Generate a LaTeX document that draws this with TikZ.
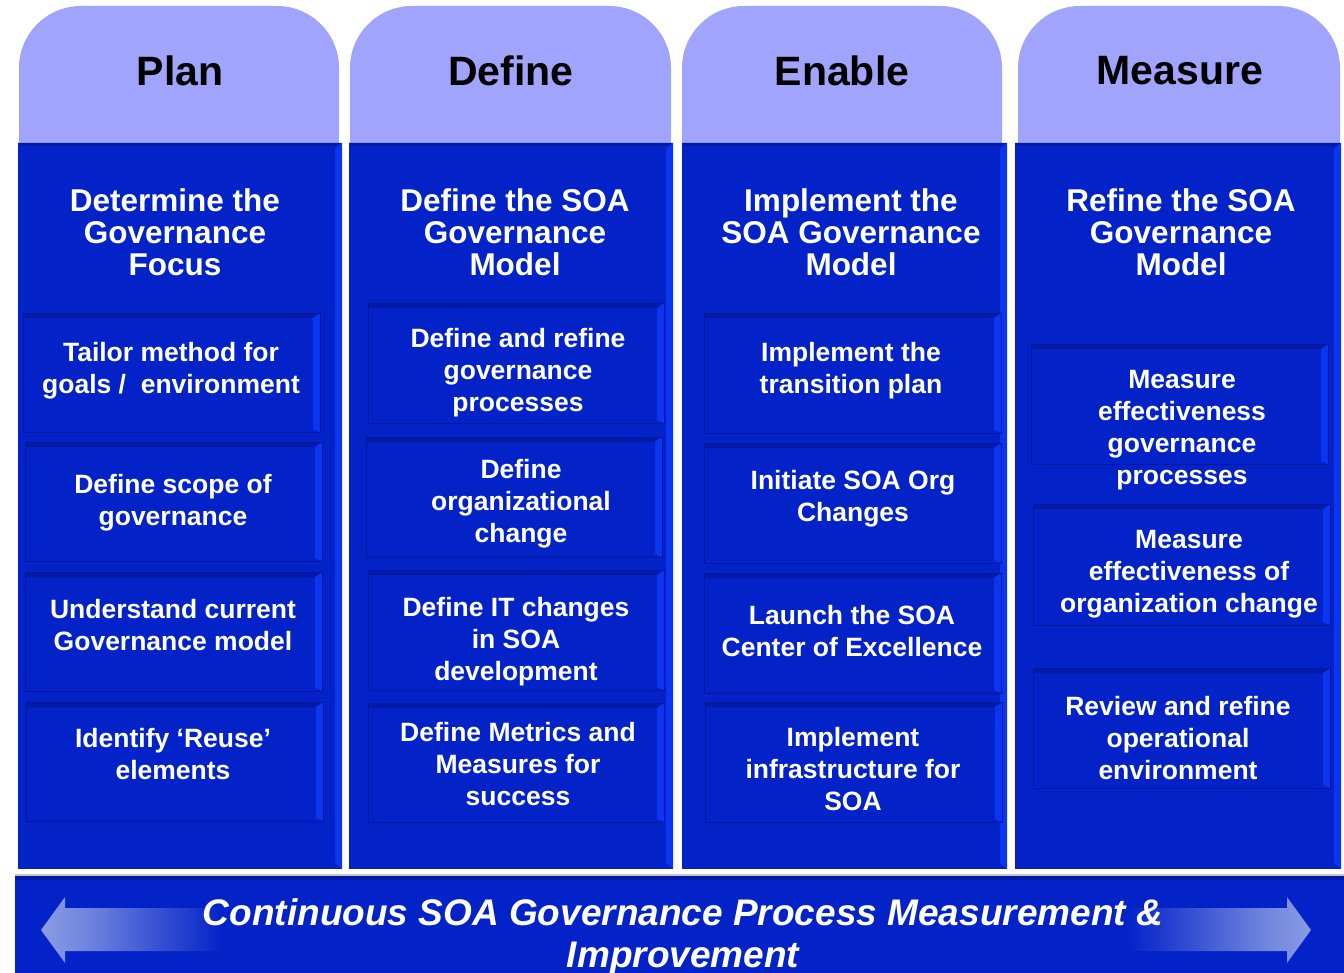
\documentclass[tikz,border=0pt]{standalone}
\usepackage{fontspec}
\setmainfont{Liberation Sans}
\definecolor{tabc}{HTML}{A0A4FC}
\definecolor{colb}{HTML}{0323C8}
\definecolor{litb}{HTML}{0A36F2}
\definecolor{darkb}{HTML}{021AA6}
\definecolor{edgeb}{HTML}{0216A0}
\definecolor{arrl}{HTML}{8A9CE4}
\newcommand\fixlines{\lineskiplimit -100pt\relax}
\pgfdeclarehorizontalshading{arrfadeL}{100bp}{color(0bp)=(arrl); color(25bp)=(arrl); color(38bp)=(arrl!80!colb); color(75bp)=(colb); color(100bp)=(colb)}
\pgfdeclarehorizontalshading{arrfadeR}{100bp}{color(0bp)=(colb); color(25bp)=(colb); color(62bp)=(arrl!80!colb); color(75bp)=(arrl); color(100bp)=(arrl)}
\tikzset{
  tabshape/.style={fill=tabc, rounded corners=62pt},
  header/.style={font=\fontsize{41}{49}\selectfont\bfseries, text=black, inner sep=0pt},
  coltitle/.style={font=\fontsize{31.5}{32}\selectfont\bfseries\fixlines, text=white, align=center, inner sep=0pt},
  boxtext/.style={font=\fontsize{26.5}{32}\selectfont\bfseries\fixlines, text=white, align=center, inner sep=0pt},
  bandtext/.style={font=\fontsize{37}{42}\selectfont\bfseries\itshape\fixlines, text=white, align=center, inner sep=0pt},
}
% column with bevel: x1, x2
\newcommand\phasecol[2]{%
  \fill[colb] (#1,143) rectangle (#2,869);
  \fill[darkb] (#1,143) -- (#2,143) -- ({#2-7},146) -- ({#1+2},146) -- cycle;
  \fill[litb] ({#2-7},149) -- (#2,143) -- (#2,869) -- ({#2-7},863) -- cycle;
}
% inner box with bevel: x1,y1,x2,y2
\newcommand\stepbox[4]{%
  \fill[colb] (#1,#2) rectangle (#3,#4);
  \fill[darkb] (#1,#2) -- (#3,#2) -- ({#3-7},{#2+5}) -- ({#1+1},{#2+5}) -- cycle;
  \fill[litb] ({#3-7},{#2+5}) -- (#3,#2) -- (#3,#4) -- ({#3-7},{#4-3}) -- cycle;
  \draw[edgeb, line width=0.8pt] (#1,#2) rectangle (#3,#4);
}
\begin{document}
\begin{tikzpicture}[x=1pt,y=-1pt]
\useasboundingbox (0,0) rectangle (1344,973);
\fill[white] (0,0) rectangle (1344,973);
% tabs
\fill[tabshape] (19,6) rectangle (339,200);
\fill[tabshape] (350,6) rectangle (671,200);
\fill[tabshape] (682,6) rectangle (1002,200);
\fill[tabshape] (1018,6) rectangle (1340,200);
% columns
\phasecol{18}{342}
\phasecol{349}{673}
\phasecol{682}{1007}
\phasecol{1015}{1341}
% boxes: Plan
\stepbox{23}{313}{320}{432}
\stepbox{25}{442}{322}{561}
\stepbox{25}{572}{322}{691}
\stepbox{26}{702}{323}{821}
% Define
\stepbox{368}{303}{664}{423}
\stepbox{366}{437}{662}{557}
\stepbox{368}{570}{664}{690}
\stepbox{368}{703}{664}{822}
% Enable
\stepbox{704}{313}{1001}{433}
\stepbox{704}{443}{1001}{563}
\stepbox{704}{573}{1001}{693}
\stepbox{705}{702}{1002}{822}
% Measure
\stepbox{1031}{344}{1328}{464}
\stepbox{1033}{504}{1330}{625}
\stepbox{1033}{668}{1330}{788}
% bottom band
\fill[gray!45] (15,874) rectangle (1344,877);
\fill[colb, rounded corners=3pt] (15,876) rectangle (1344,990);
\fill[darkb] (15,876) rectangle (1344,880);
% arrows
\shade[shading=arrfadeL] (41,930) -- (65,897) -- (65,908) -- (222,908) -- (222,951) -- (65,951) -- (65,963) -- cycle;
\shade[shading=arrfadeR] (1311,930) -- (1287,897) -- (1287,908) -- (1128,908) -- (1128,951) -- (1287,951) -- (1287,963) -- cycle;
% headers
\node[header] (hplan) at (180,70.5) {Plan};
\node[header] (hdef) at (511,70.5) {Define};
\node[header] (hena) at (842,70.5) {Enable};
\node[header] (hmea) at (1180,70.5) {Measure};
% column titles
\node[coltitle] (tplan) at (175,236.5) {\strut Determine the\\\strut Governance\\\strut Focus};
\node[coltitle] (tdef) at (515,236.5) {\strut Define the SOA\\\strut Governance\\\strut Model};
\node[coltitle] (tena) at (851,236.5) {\strut Implement the\\\strut SOA Governance\\\strut Model};
\node[coltitle] (tmea) at (1181,236.5) {\strut Refine the SOA\\\strut Governance\\\strut Model};
% Plan steps
\node[boxtext] (p1) at (171,371) {\strut Tailor method for\\\strut goals /\ \ environment};
\node[boxtext] (p2) at (173,503) {\strut Define scope of\\\strut governance};
\node[boxtext] (p3) at (173,628) {\strut Understand current\\\strut Governance model};
\node[boxtext] (p4) at (173,757) {\strut Identify ‘Reuse’\\\strut elements};
% Define steps
\node[boxtext] (d1) at (518,373) {\strut Define and refine\\\strut governance\\\strut processes};
\node[boxtext] (d2) at (521,504) {\strut Define\\\strut organizational\\\strut change};
\node[boxtext] (d3) at (516,642) {\strut Define IT changes\\\strut in SOA\\\strut development};
\node[boxtext] (d4) at (518,767) {\strut Define Metrics and\\\strut Measures for\\\strut success};
% Enable steps
\node[boxtext] (e1) at (851,371) {\strut Implement the\\\strut transition plan};
\node[boxtext] (e2) at (853,499) {\strut Initiate SOA Org\\\strut Changes};
\node[boxtext] (e3) at (852,634) {\strut Launch the SOA\\\strut Center of Excellence};
\node[boxtext] (e4) at (853,772) {\strut Implement\\\strut infrastructure for\\\strut SOA};
% Measure steps
\node[boxtext] (m1) at (1182,430) {\strut Measure\\\strut effectiveness\\\strut governance\\\strut processes};
\node[boxtext] (m2) at (1189,574) {\strut Measure\\\strut effectiveness of\\\strut organization change};
\node[boxtext] (m3) at (1178,741) {\strut Review and refine\\\strut operational\\\strut environment};
% band text
\node[bandtext] (band) at (683,938.5) {\strut Continuous SOA Governance Process Measurement \&\\\strut Improvement};
\end{tikzpicture}
\end{document}
